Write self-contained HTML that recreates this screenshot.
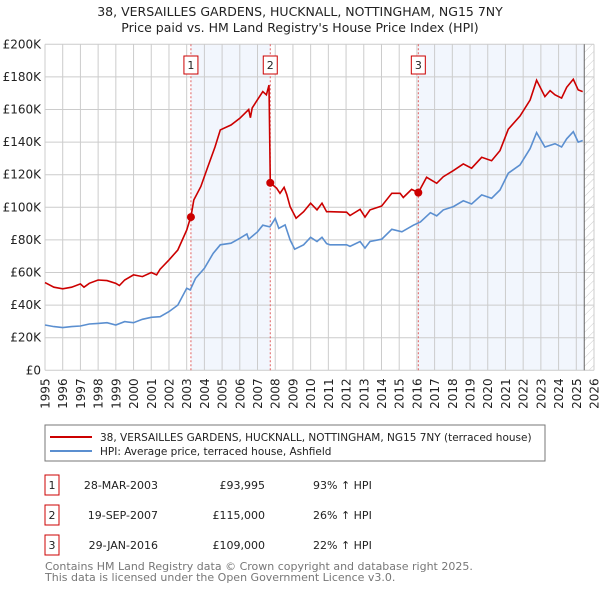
<!DOCTYPE html>
<html><head><meta charset="utf-8"><style>
body{margin:0;background:#fff;font-family:"Liberation Sans","DejaVu Sans",sans-serif;}
svg text{font-family:"DejaVu Sans","Liberation Sans",sans-serif;}
</style></head><body>
<svg id="chart" width="600" height="590" viewBox="0 0 600 590" xmlns="http://www.w3.org/2000/svg">
<defs><pattern id="hatch" width="6" height="6" patternUnits="userSpaceOnUse" patternTransform="rotate(45)"><line x1="0" y1="0" x2="0" y2="6" stroke="#ccc" stroke-width="1"/></pattern></defs>
<text x="300" y="16" text-anchor="middle" font-size="12.5" fill="#222">38, VERSAILLES GARDENS, HUCKNALL, NOTTINGHAM, NG15 7NY</text>
<text x="300" y="32" text-anchor="middle" font-size="12.5" fill="#222">Price paid vs. HM Land Registry's House Price Index (HPI)</text>
<g id="plot"></g>
<rect x="45" y="425" width="500" height="36" fill="#fff" stroke="#777"/>
<line x1="50" y1="437" x2="92" y2="437" stroke="#cc0000" stroke-width="2"/>
<text x="100" y="441" font-size="10.5" fill="#222">38, VERSAILLES GARDENS, HUCKNALL, NOTTINGHAM, NG15 7NY (terraced house)</text>
<line x1="50" y1="451" x2="92" y2="451" stroke="#5b8fd0" stroke-width="2"/>
<text x="100" y="455" font-size="10.5" fill="#222">HPI: Average price, terraced house, Ashfield</text>
<g font-size="11" fill="#222">
<rect x="45" y="475" width="14" height="20" fill="#fff" stroke="#cc0000"/><text x="52" y="489" text-anchor="middle">1</text>
<text x="158" y="489" text-anchor="end">28-MAR-2003</text>
<text x="265" y="489" text-anchor="end">£93,995</text>
<text x="313" y="489">93% ↑ HPI</text>
<rect x="45" y="505" width="14" height="20" fill="#fff" stroke="#cc0000"/><text x="52" y="519" text-anchor="middle">2</text>
<text x="158" y="519" text-anchor="end">19-SEP-2007</text>
<text x="265" y="519" text-anchor="end">£115,000</text>
<text x="313" y="519">26% ↑ HPI</text>
<rect x="45" y="535" width="14" height="20" fill="#fff" stroke="#cc0000"/><text x="52" y="549" text-anchor="middle">3</text>
<text x="158" y="549" text-anchor="end">29-JAN-2016</text>
<text x="265" y="549" text-anchor="end">£109,000</text>
<text x="313" y="549">22% ↑ HPI</text>
</g>
<text x="45" y="570" font-size="11" fill="#777">Contains HM Land Registry data © Crown copyright and database right 2025.</text>
<text x="45" y="581" font-size="11" fill="#777">This data is licensed under the Open Government Licence v3.0.</text>
</svg>
<script>
const yTicks=[0,20000,40000,60000,80000,100000,120000,140000,160000,180000,200000];
const yTickLabels=["£0","£20K","£40K","£60K","£80K","£100K","£120K","£140K","£160K","£180K","£200K"];
const xYears=[1995,1996,1997,1998,1999,2000,2001,2002,2003,2004,2005,2006,2007,2008,2009,2010,2011,2012,2013,2014,2015,2016,2017,2018,2019,2020,2021,2022,2023,2024,2025,2026];
const saleDates=[2003.24,2007.72,2016.08];
const salePrices=[93995,115000,109000];
const saleLabels=["1","2","3"];
const redYears=[1995,1995.5,1996,1996.5,1997,1997.2,1997.5,1998,1998.5,1999,1999.2,1999.5,2000,2000.5,2001,2001.3,2001.5,2002,2002.5,2003,2003.2,2003.24,2003.4,2003.8,2004.2,2004.6,2004.9,2005.5,2006,2006.5,2006.6,2006.7,2007,2007.3,2007.5,2007.65,2007.72,2008.08,2008.27,2008.5,2008.65,2008.84,2009.18,2009.6,2010,2010.36,2010.64,2010.9,2011.09,2012.03,2012.22,2012.79,2013.07,2013.35,2014.01,2014.58,2015.05,2015.23,2015.7,2016.08,2016.55,2017.12,2017.49,2018.06,2018.62,2019.09,2019.66,2020.22,2020.69,2021.16,2021.82,2022.39,2022.76,2023.23,2023.52,2023.8,2024.17,2024.46,2024.83,2025.11,2025.36];
const redValues=[53.8,51,50,51,53,51,53.4,55.4,55,53.4,52,55.4,58.5,57.5,60,58.5,62,67.7,73.8,86,93,94,104.5,112.7,125,137,147.5,150.5,154.6,160,155,161,166,171,169,175,115,111.7,108.6,112.3,108,100.4,93.3,97.3,102.5,98.4,102.5,97.3,97.3,97,95,98.8,94,98.4,100.8,108.6,108.6,106,111,109,118.4,114.7,118.8,122.5,126.6,124,130.7,128.6,134.8,147.9,156,165.8,178,167.9,171.6,169,167,173.6,178.5,172,171];
const blueYears=[1995,1995.5,1996,1996.5,1997,1997.5,1998,1998.5,1999,1999.5,2000,2000.5,2001,2001.5,2002,2002.5,2003,2003.2,2003.5,2004,2004.5,2004.9,2005.5,2006,2006.4,2006.5,2007,2007.3,2007.7,2008,2008.2,2008.56,2008.84,2009.1,2009.6,2010,2010.36,2010.64,2010.9,2011.09,2012.03,2012.22,2012.79,2013.07,2013.35,2014.01,2014.58,2015.15,2015.8,2016.2,2016.76,2017.12,2017.49,2018.06,2018.62,2019.09,2019.66,2020.22,2020.69,2021.16,2021.82,2022.39,2022.76,2023.23,2023.8,2024.17,2024.46,2024.83,2025.11,2025.36];
const blueValues=[27.8,26.8,26.2,26.8,27.2,28.4,28.8,29.2,27.8,29.9,29.2,31.3,32.5,32.9,36,40,50.3,49.3,56.4,62.6,71.8,77,78,81,83.6,80.4,85,89,88,93.2,87.1,89.2,80,74.3,77,81.6,79,81.6,77.7,77,77,76,79,75,79,80.4,86.5,85,89,91,96.7,94.7,98.4,100.4,104,102,107.6,105.5,110.6,120.9,126,136,145.8,137,139,137,142,146.4,140,141];

const NS="http://www.w3.org/2000/svg";
const L=45,R=594,T=44.3,B=370.3;
const xS=y=>L+(y-1995)/(2026-1995)*(R-L);
const yS=v=>B-v/200000*(B-T);
const g=document.getElementById('plot');
function mk(tag,attrs){const e=document.createElementNS(NS,tag);for(const k in attrs)e.setAttribute(k,attrs[k]);g.appendChild(e);return e;}
let e;
e=mk('rect',{x:xS(saleDates[0]),y:T,width:xS(saleDates[1])-xS(saleDates[0]),height:B-T,fill:'#f2f6fd'});


e=mk('rect',{x:xS(saleDates[2]),y:T,width:xS(2025.45)-xS(saleDates[2]),height:B-T,fill:'#f2f6fd'});


e=mk('rect',{x:xS(2025.45),y:T,width:R-xS(2025.45),height:B-T,fill:'url(#hatch)'});


yTicks.forEach((v,i)=>{
 e=mk('line',{x1:L,x2:R,y1:yS(v),y2:yS(v),stroke:'#ccc','stroke-width':1});
 
 
 e=mk('text',{x:L-4,y:yS(v)+4,'text-anchor':'end','font-size':12,fill:'#222'});e.textContent=yTickLabels[i];
 
 
});
xYears.forEach(yr=>{
 e=mk('line',{x1:xS(yr),x2:xS(yr),y1:T,y2:B,stroke:'#ccc','stroke-width':1});
 
 
 e=mk('text',{x:0,y:0,'text-anchor':'end','font-size':12,fill:'#222',transform:`translate(${xS(yr)+4.5},${B+8}) rotate(-90)`});e.textContent=yr;
 
 
});
e=mk('line',{x1:xS(2025.45),x2:xS(2025.45),y1:T,y2:B,stroke:'#666','stroke-width':1});


saleDates.forEach((d,i)=>{
 e=mk('line',{x1:xS(d),x2:xS(d),y1:T,y2:B,stroke:'#e06060','stroke-width':1,'stroke-dasharray':'2,2'});
 
 
 e=mk('rect',{x:xS(d)-7,y:56,width:14,height:18,fill:'#fff',stroke:'#cc0000'});
 
 
 e=mk('text',{x:xS(d),y:69,'text-anchor':'middle','font-size':11,fill:'#222'});e.textContent=saleLabels[i];
 
 
});
e=mk('polyline',{points:blueYears.map((y,i)=>xS(y).toFixed(1)+','+yS(blueValues[i]*1000).toFixed(1)).join(' '),fill:'none',stroke:'#5b8fd0','stroke-width':1.6});


e=mk('polyline',{points:redYears.map((y,i)=>xS(y).toFixed(1)+','+yS(redValues[i]*1000).toFixed(1)).join(' '),fill:'none',stroke:'#cc0000','stroke-width':1.6});


saleDates.forEach((d,i)=>{
 e=mk('circle',{cx:xS(d),cy:yS(salePrices[i]),r:4,fill:'#cc0000'});
 
 
});
</script>
</body></html>
